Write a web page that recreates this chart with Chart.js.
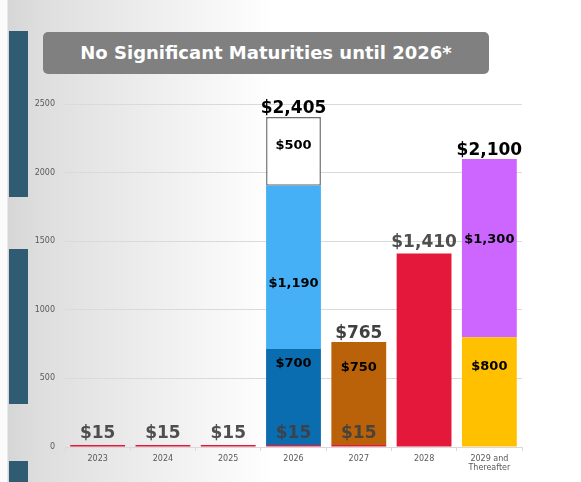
<!DOCTYPE html>
<html lang="en">
<head>
<meta charset="UTF-8">
<title>No Significant Maturities until 2026*</title>
<script src="https://cdn.jsdelivr.net/npm/chart.js"></script>
<style>
    html, body { margin: 0; padding: 0; }
    body {
        width: 581px; height: 482px; overflow: hidden; position: relative;
        background: linear-gradient(to right, #fbfbfb 0px, #fbfbfb 7px, #d6d6d6 8px, #dedede 40px, #ffffff 275px);
        font-family: 'DejaVu Sans', Verdana, sans-serif;
    }
    .edge { position: absolute; left: 9px; width: 19px; background: #2f5b73; }
    #title {
        position: absolute; left: 43px; top: 32px; width: 446px; height: 42px;
        background: #808080; border-radius: 5px; color: #fff;
        font-weight: bold; font-size: 18px; line-height: 42px; text-align: center;
    }
    #chart-wrap { position: absolute; left: 0; top: 0; width: 581px; height: 482px; }
</style>
</head>
<body>
<div class="edge" style="top:31px;height:166px"></div>
<div class="edge" style="top:249px;height:155px"></div>
<div class="edge" style="top:461px;height:21px"></div>
<div id="title">No Significant Maturities until 2026*</div>
<div id="chart-wrap"><canvas id="maturities" width="581" height="482"></canvas></div>

<script>
// categories (years)
const years = ['2023', '2024', '2025', '2026', '2027', '2028', ['2029 and', 'Thereafter']];

// series values, bottom of stack first
const redValues       = [15, 15, 15, 15, 15, 1410, null];
const darkBlueValues  = [null, null, null, 700, null, null, null];
const lightBlueValues = [null, null, null, 1190, null, null, null];
const whiteValues     = [null, null, null, 500, null, null, null];
const orangeValues    = [null, null, null, null, 750, null, null];
const yellowValues    = [null, null, null, null, null, null, 800];
const purpleValues    = [null, null, null, null, null, null, 1300];

// y axis ticks
const yTicks = [0, 500, 1000, 1500, 2000, 2500];

// colour of the total label above each stack (null = no total)
const totalColors = [null, null, null, '#000000', '#404040', null, '#000000'];

const money = v => '$' + v.toLocaleString('en-US');

// draws "$x" labels: red series above its bar, others inside segment, totals on top
const labelPlugin = {
    id: 'labels',
    afterDatasetsDraw(chart) {
        const ctx = chart.ctx;
        ctx.save();
        ctx.textAlign = 'center';
        chart.data.datasets.forEach((ds, di) => {
            const meta = chart.getDatasetMeta(di);
            meta.data.forEach((bar, i) => {
                const v = ds.data[i];
                if (!v) return;
                if (ds.labelAbove) {
                    ctx.font = 'bold 17px "DejaVu Sans"';
                    ctx.fillStyle = 'rgba(64,64,64,0.92)';
                    ctx.textBaseline = 'alphabetic';
                    ctx.fillText(money(v), bar.x, bar.y - 7);
                } else {
                    ctx.font = 'bold 13px "DejaVu Sans"';
                    ctx.fillStyle = '#000';
                    ctx.textBaseline = 'middle';
                    const y = bar.y + (bar.base - bar.y) * ds.labelPos;
                    ctx.fillText(money(v), bar.x, y);
                }
            });
        });
        // totals
        const yScale = chart.scales.y;
        const xScale = chart.scales.x;
        totalColors.forEach((c, i) => {
            if (!c) return;
            let sum = 0;
            chart.data.datasets.forEach(ds => { sum += ds.data[i] || 0; });
            ctx.font = 'bold 17px "DejaVu Sans"';
            ctx.fillStyle = c;
            ctx.textBaseline = 'alphabetic';
            ctx.fillText(money(sum), xScale.getPixelForValue(i), yScale.getPixelForValue(sum) - 4);
        });
        ctx.restore();
    }
};

const ctx = document.getElementById('maturities').getContext('2d');
new Chart(ctx, {
    type: 'bar',
    data: {
        labels: years,
        datasets: [
            { data: redValues, backgroundColor: '#e4183a', labelAbove: true },
            { data: darkBlueValues, backgroundColor: '#0a6db0', labelPos: 0.15 },
            { data: lightBlueValues, backgroundColor: '#45b0f6', labelPos: 0.6 },
            { data: whiteValues, backgroundColor: '#ffffff', borderColor: '#6f6f6f', borderWidth: 1.5, borderSkipped: false, labelPos: 0.42 },
            { data: orangeValues, backgroundColor: '#b9620a', labelPos: 0.25 },
            { data: yellowValues, backgroundColor: '#ffc000', labelPos: 0.27 },
            { data: purpleValues, backgroundColor: '#cc66ff', labelPos: 0.45 }
        ]
    },
    options: {
        responsive: false,
        animation: false,
        maintainAspectRatio: false,
        layout: { padding: { left: 35, top: 104, right: 59, bottom: 5 } },
        datasets: { bar: { categoryPercentage: 0.84, barPercentage: 1, borderWidth: 0 } },
        plugins: { legend: { display: false }, tooltip: { enabled: false } },
        scales: {
            x: {
                stacked: true,
                afterFit: s => { s.height = 30; },
                grid: { offset: true, drawOnChartArea: false, tickLength: 4, color: '#d9d9d9' },
                border: { color: '#d9d9d9' },
                ticks: { color: '#595959', padding: 3, font: { family: 'DejaVu Sans', size: 8 }, maxRotation: 0, autoSkip: false }
            },
            y: {
                stacked: true,
                min: 0,
                max: 2500,
                afterFit: s => { s.width = 30; },
                afterBuildTicks: s => { s.ticks = yTicks.map(v => ({ value: v })); },
                grid: { color: '#dadada', drawTicks: false },
                border: { display: false },
                ticks: { color: '#595959', padding: 10, font: { family: 'DejaVu Sans', size: 8 }, callback: v => v }
            }
        }
    },
    plugins: [labelPlugin]
});
</script>
</body>
</html>
